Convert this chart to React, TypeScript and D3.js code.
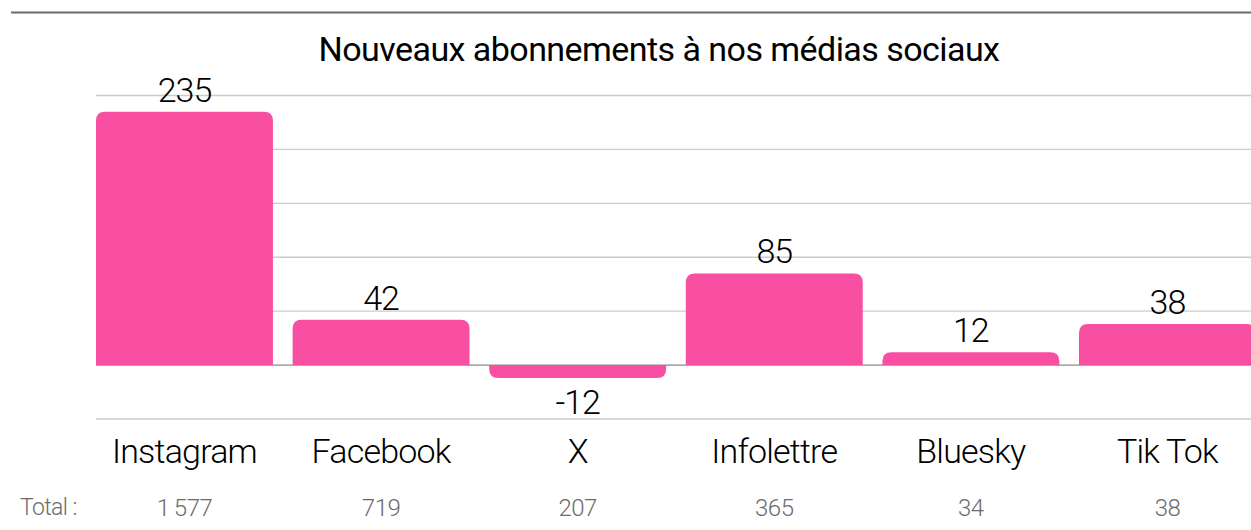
import React from "react";
import * as d3 from "d3";

const categories = ["Instagram", "Facebook", "X", "Infolettre", "Bluesky", "Tik Tok"];
const newSubs = [235, 42, -12, 85, 12, 38];
const totals = ["1\u2009577", "719", "207", "365", "34", "38"];
const yTicks = [-50, 0, 50, 100, 150, 200, 250];
const title = "Nouveaux abonnements à nos médias sociaux";
const totalLabel = "Total :";

const W = 1251;
const H = 530;
const PINK = "#F94FA3";
const FONT = "Roboto, 'Liberation Sans', Arial, sans-serif";

function barPath(x: number, w: number, y0: number, y1: number, r: number): string {
  const h = Math.abs(y1 - y0);
  const rr = Math.min(r, h, w / 2);
  if (y1 < y0) {
    return `M${x},${y0}V${y1 + rr}Q${x},${y1} ${x + rr},${y1}H${x + w - rr}Q${x + w},${y1} ${x + w},${y1 + rr}V${y0}Z`;
  }
  return `M${x},${y0}V${y1 - rr}Q${x},${y1} ${x + rr},${y1}H${x + w - rr}Q${x + w},${y1} ${x + w},${y1 - rr}V${y0}Z`;
}

export default function App() {
  const y = d3.scaleLinear().domain([-50, 250]).range([419, 95.5]);
  const x = d3
    .scaleBand<string>()
    .domain(categories)
    .range([96, 96 + 196.6 * 5.9])
    .paddingInner(0.1)
    .paddingOuter(0);
  const bw = x.bandwidth();
  const gridX0 = 96;

  return (
    <svg
      width={W}
      height={H}
      style={{ position: "absolute", left: 0, top: 0, display: "block", background: "#fff" }}
    >
      <line x1={11} x2={W} y1={12.5} y2={12.5} stroke="#6b6b6b" strokeWidth={2} />
      <text
        x={659}
        y={61}
        textAnchor="middle"
        fontFamily={FONT}
        fontSize={34}
        fontWeight={400}
        letterSpacing={-0.55}
        fill="#000"
      >
        {title}
      </text>
      {yTicks.map((t) => (
        <line
          key={t}
          x1={gridX0}
          x2={W}
          y1={y(t)}
          y2={y(t)}
          stroke={t === 0 ? "#8a8a8a" : "#cccccc"}
          strokeWidth={1.3}
        />
      ))}
      {categories.map((c, i) => {
        const v = newSubs[i];
        const bx = x(c)!;
        return <path key={c} d={barPath(bx, bw, y(0), y(v), 9)} fill={PINK} />;
      })}
      {categories.map((c, i) => {
        const v = newSubs[i];
        const cx = x(c)! + bw / 2;
        const ty = v >= 0 ? y(v) - 10 : y(v) + 36;
        return (
          <text
            key={c}
            x={cx}
            y={ty}
            textAnchor="middle"
            fontFamily={FONT}
            fontWeight={300}
            fontSize={34}
            letterSpacing={-1}
            fill="#000"
          >
            {v}
          </text>
        );
      })}
      {categories.map((c) => (
        <text
          key={c}
          x={x(c)! + bw / 2}
          y={463}
          textAnchor="middle"
          fontFamily={FONT}
          fontWeight={300}
          fontSize={34}
          letterSpacing={-0.8}
          fill="#000"
        >
          {c}
        </text>
      ))}
      <text x={20} y={515} fontFamily={FONT} fontWeight={300} fontSize={23} letterSpacing={-0.6} fill="#6b6b6b">
        {totalLabel}
      </text>
      {categories.map((c, i) => (
        <text
          key={c}
          x={x(c)! + bw / 2}
          y={516}
          textAnchor="middle"
          fontFamily={FONT}
          fontWeight={300}
          fontSize={24}
          letterSpacing={-0.5}
          fill="#6b6b6b"
        >
          {totals[i]}
        </text>
      ))}
    </svg>
  );
}
